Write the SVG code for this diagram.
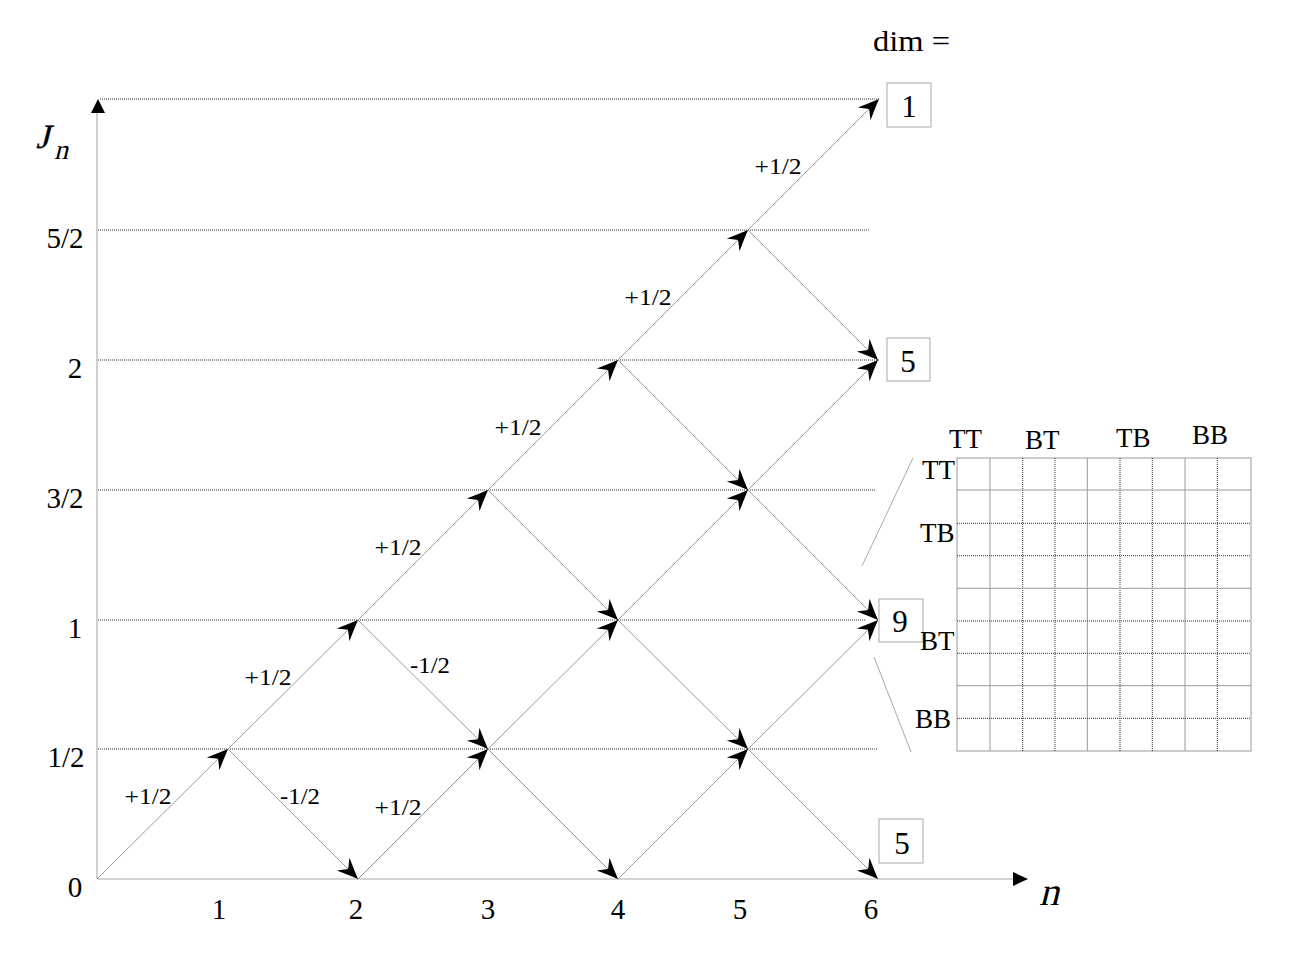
<svg xmlns="http://www.w3.org/2000/svg" width="1303" height="977" viewBox="0 0 1303 977">
<style>
.serif{font-family:"Liberation Serif","Times New Roman",serif;fill:#000}
.lbl{font-size:23px;text-anchor:middle}
.ax{font-size:29px;text-anchor:middle}
.edge{stroke:#9a9a9a;stroke-width:1;fill:none;marker-end:url(#ah)}
.dot{stroke:#333;stroke-width:1;stroke-dasharray:1 1;fill:none}
.axis{stroke:#c4c4c4;stroke-width:1.6;fill:none}
.box{fill:#fff;stroke:#aaa;stroke-width:1}
.grid{stroke:#999;stroke-width:1;fill:none}
.gdot{stroke:#333;stroke-width:1;stroke-dasharray:1 1;fill:none}
.mt{font-size:27px}
.num{font-size:31px;text-anchor:middle}
</style>
<defs>
<marker id="ah" viewBox="-22 -10 23 20" refX="0" refY="0" markerWidth="23" markerHeight="20" markerUnits="userSpaceOnUse" orient="auto">
<path d="M0,0 Q-10,-4 -21,-9 L-14,0 L-21,9 Q-10,4 0,0 Z" fill="#000"/>
</marker>
</defs>
<rect width="1303" height="977" fill="#fff"/>

<g id="grid-lines">
<line class="dot" x1="100" y1="99" x2="880" y2="99"/>
<line class="dot" x1="98" y1="230" x2="870" y2="230"/>
<line class="dot" x1="98" y1="360" x2="880" y2="360"/>
<line class="dot" x1="98" y1="490" x2="875" y2="490"/>
<line class="dot" x1="98" y1="620" x2="866" y2="620"/>
<line class="dot" x1="98" y1="749" x2="877" y2="749"/>
</g>

<g id="axes">
<line class="axis" x1="97" y1="879" x2="97" y2="112"/>
<polygon points="98,99 91,113 105,113" fill="#000"/>
<line class="axis" x1="97" y1="879" x2="1014" y2="879"/>
<polygon points="1028,879 1013,872 1013,886" fill="#000"/>
<text class="serif" x="0" y="0" font-size="34" stroke="#000" stroke-width="0.4" transform="translate(36,148) skewX(-14)">J</text>
<text class="serif" x="0" y="0" font-size="28" transform="translate(54,159) skewX(-14)">n</text>
<text class="serif" x="0" y="0" font-size="40" transform="translate(1039,905) skewX(-14)">n</text>
<text class="serif ax" x="75" y="897">0</text>
<text class="serif ax" x="66" y="767">1/2</text>
<text class="serif ax" x="75" y="638">1</text>
<text class="serif ax" x="65" y="508">3/2</text>
<text class="serif ax" x="75" y="378">2</text>
<text class="serif ax" x="65" y="248">5/2</text>
<text class="serif ax" x="219" y="919">1</text>
<text class="serif ax" x="356" y="919">2</text>
<text class="serif ax" x="488" y="919">3</text>
<text class="serif ax" x="618" y="919">4</text>
<text class="serif ax" x="740" y="919">5</text>
<text class="serif ax" x="871" y="919">6</text>
</g>

<g id="connectors">
<line class="edge" x1="97" y1="879" x2="228" y2="749"/>
<line class="edge" x1="228" y1="749" x2="358" y2="620"/>
<line class="edge" x1="358" y1="620" x2="488" y2="490"/>
<line class="edge" x1="488" y1="490" x2="618" y2="360"/>
<line class="edge" x1="618" y1="360" x2="748" y2="230"/>
<line class="edge" x1="748" y1="230" x2="879" y2="99"/>
<line class="edge" x1="358" y1="879" x2="488" y2="749"/>
<line class="edge" x1="488" y1="749" x2="618" y2="620"/>
<line class="edge" x1="618" y1="620" x2="748" y2="490"/>
<line class="edge" x1="748" y1="490" x2="878" y2="360"/>
<line class="edge" x1="618" y1="879" x2="748" y2="749"/>
<line class="edge" x1="748" y1="749" x2="878" y2="620"/>
<line class="edge" x1="228" y1="749" x2="358" y2="879"/>
<line class="edge" x1="358" y1="620" x2="488" y2="749"/>
<line class="edge" x1="488" y1="490" x2="618" y2="620"/>
<line class="edge" x1="618" y1="360" x2="748" y2="490"/>
<line class="edge" x1="748" y1="230" x2="878" y2="360"/>
<line class="edge" x1="488" y1="749" x2="618" y2="879"/>
<line class="edge" x1="618" y1="620" x2="748" y2="749"/>
<line class="edge" x1="748" y1="490" x2="878" y2="620"/>
<line class="edge" x1="748" y1="749" x2="878" y2="879"/>
<line x1="862" y1="566" x2="913" y2="458" stroke="#aaa" stroke-width="1"/>
<line x1="874" y1="657" x2="911" y2="752" stroke="#aaa" stroke-width="1"/>
</g>

<g id="edge-labels">
<text class="serif lbl" x="148" y="804" textLength="47" lengthAdjust="spacingAndGlyphs">+1/2</text>
<text class="serif lbl" x="300" y="804" textLength="40" lengthAdjust="spacingAndGlyphs">-1/2</text>
<text class="serif lbl" x="398" y="815" textLength="47" lengthAdjust="spacingAndGlyphs">+1/2</text>
<text class="serif lbl" x="268" y="685" textLength="47" lengthAdjust="spacingAndGlyphs">+1/2</text>
<text class="serif lbl" x="430" y="673" textLength="40" lengthAdjust="spacingAndGlyphs">-1/2</text>
<text class="serif lbl" x="398" y="555" textLength="47" lengthAdjust="spacingAndGlyphs">+1/2</text>
<text class="serif lbl" x="518" y="435" textLength="47" lengthAdjust="spacingAndGlyphs">+1/2</text>
<text class="serif lbl" x="648" y="305" textLength="47" lengthAdjust="spacingAndGlyphs">+1/2</text>
<text class="serif lbl" x="778" y="174" textLength="47" lengthAdjust="spacingAndGlyphs">+1/2</text>
</g>

<g id="dim-label">
<text class="serif" x="873" y="51" font-size="29" textLength="77" lengthAdjust="spacingAndGlyphs">dim =</text>
</g>

<g id="box-1">
<rect class="box" x="887" y="83" width="44" height="44"/>
<text class="serif num" x="909" y="117">1</text>
</g>
<g id="box-5-top">
<rect class="box" x="887" y="338" width="43" height="43"/>
<text class="serif num" x="908" y="372">5</text>
</g>
<g id="box-9">
<rect class="box" x="879" y="599" width="44" height="43"/>
<text class="serif num" x="900" y="632">9</text>
</g>
<g id="box-5-bottom">
<rect class="box" x="879" y="819" width="44" height="44"/>
<text class="serif num" x="902" y="854">5</text>
</g>

<g id="matrix">
<rect class="grid" x="957" y="458" width="294" height="293"/>
<line class="grid" x1="990" y1="458" x2="990" y2="751"/>
<line class="grid" x1="1087.3" y1="458" x2="1087.3" y2="751"/>
<line class="grid" x1="1185" y1="458" x2="1185" y2="751"/>
<line class="gdot" x1="1022.7" y1="458" x2="1022.7" y2="751"/>
<line class="gdot" x1="1055" y1="458" x2="1055" y2="751"/>
<line class="gdot" x1="1120" y1="458" x2="1120" y2="751"/>
<line class="gdot" x1="1152.3" y1="458" x2="1152.3" y2="751"/>
<line class="gdot" x1="1217.3" y1="458" x2="1217.3" y2="751"/>
<line class="grid" x1="957" y1="490" x2="1251" y2="490"/>
<line class="grid" x1="957" y1="588.3" x2="1251" y2="588.3"/>
<line class="grid" x1="957" y1="685.7" x2="1251" y2="685.7"/>
<line class="gdot" x1="957" y1="523.3" x2="1251" y2="523.3"/>
<line class="gdot" x1="957" y1="555.7" x2="1251" y2="555.7"/>
<line class="gdot" x1="957" y1="621" x2="1251" y2="621"/>
<line class="gdot" x1="957" y1="653.3" x2="1251" y2="653.3"/>
<line class="gdot" x1="957" y1="718.3" x2="1251" y2="718.3"/>
<text class="serif mt" x="949" y="448">TT</text>
<text class="serif mt" x="1025" y="449">BT</text>
<text class="serif mt" x="1116" y="447">TB</text>
<text class="serif mt" x="1192" y="444">BB</text>
<text class="serif mt" x="922" y="479">TT</text>
<text class="serif mt" x="920" y="542">TB</text>
<text class="serif mt" x="920" y="650">BT</text>
<text class="serif mt" x="915" y="728">BB</text>
</g>
</svg>
